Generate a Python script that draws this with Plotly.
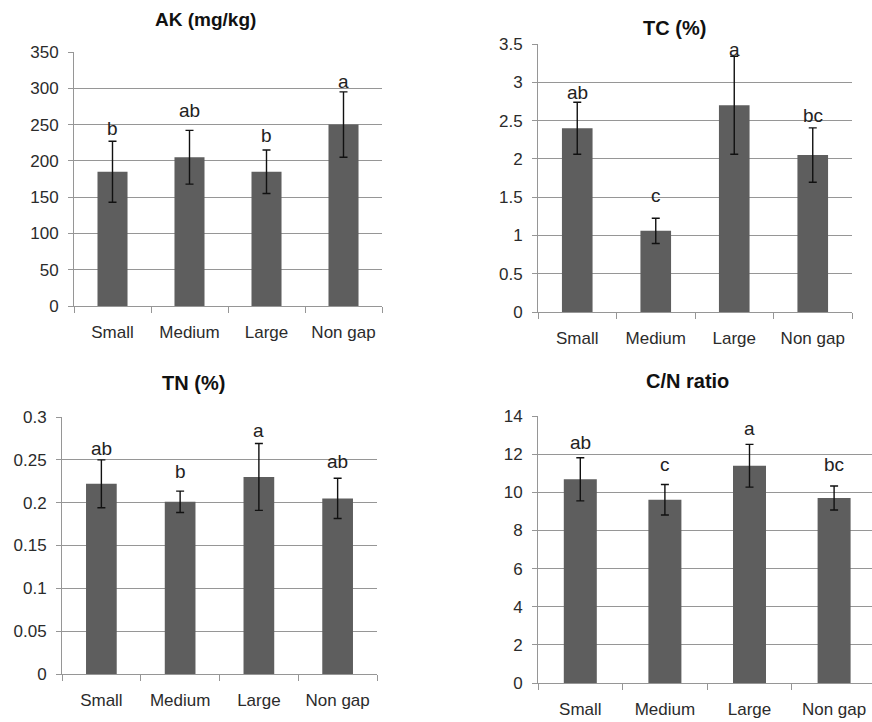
import plotly.graph_objects as go

W, H = 872, 722

categories = ["Small", "Medium", "Large", "Non gap"]

ak_values = [185, 205, 185, 250]
ak_errors = [42, 37, 30, 45]
ak_letters = ["b", "ab", "b", "a"]
ak_letter_y = [233, 258, 223, 298]

tc_values = [2.40, 1.06, 2.70, 2.05]
tc_errors = [0.34, 0.165, 0.64, 0.355]
tc_letters = ["ab", "c", "a", "bc"]
tc_letter_y = [2.76, 1.41, 3.32, 2.46]

tn_values = [0.222, 0.201, 0.230, 0.205]
tn_errors = [0.028, 0.0125, 0.039, 0.0235]
tn_letters = ["ab", "b", "a", "ab"]
tn_letter_y = [0.2533, 0.2267, 0.2743, 0.2384]

cn_values = [10.68, 9.61, 11.39, 9.70]
cn_errors = [1.13, 0.80, 1.12, 0.63]
cn_letters = ["ab", "c", "a", "bc"]
cn_letter_y = [12.16, 11.0, 12.88, 11.0]

ak_ticks = [0, 50, 100, 150, 200, 250, 300, 350]
tc_ticks = [0, 0.5, 1, 1.5, 2, 2.5, 3, 3.5]
tn_ticks = [0, 0.05, 0.1, 0.15, 0.2, 0.25, 0.3]
cn_ticks = [0, 2, 4, 6, 8, 10, 12, 14]

BAR = "#5e5e5e"
GRID = "#969696"
FONT = "Liberation Sans, Arial, sans-serif"

panels = [
    dict(v=ak_values, e=ak_errors, l=ak_letters, ly=ak_letter_y, ticks=ak_ticks, ymax=350,
         box=(74, 382, 52, 306), xr=3.5, title="<b>AK (mg/kg)</b>", tsize=19,
         tx=205, ty=20),
    dict(v=tc_values, e=tc_errors, l=tc_letters, ly=tc_letter_y, ticks=tc_ticks, ymax=3.5,
         box=(538, 852, 44, 312), xr=3.5, title="<b>TC (%)</b>", tsize=20, tx=674, ty=28),
    dict(v=tn_values, e=tn_errors, l=tn_letters, ly=tn_letter_y, ticks=tn_ticks, ymax=0.3,
         box=(62, 377, 417, 674), xr=3.5, title="<b>TN (%)</b>", tsize=20, tx=193, ty=383),
    dict(v=cn_values, e=cn_errors, l=cn_letters, ly=cn_letter_y, ticks=cn_ticks, ymax=14,
         box=(538, 872, 416, 683), xr=-0.5 + (872 - 538) / 84.6, title="<b>C/N ratio</b>",
         tsize=20, tx=687, ty=381),
]

fig = go.Figure()
annotations = []
layout = {}
for i, p in enumerate(panels, start=1):
    xa = "x" if i == 1 else f"x{i}"
    ya = "y" if i == 1 else f"y{i}"
    l, r, t, b = p["box"]
    fig.add_trace(go.Bar(
        x=categories, y=p["v"], xaxis=xa, yaxis=ya, width=0.39,
        marker=dict(color=BAR, line=dict(width=0)),
        error_y=dict(type="data", array=p["e"], visible=True, color="#111111",
                     thickness=1.4, width=4),
        showlegend=False, hoverinfo="skip",
    ))
    layout[f"xaxis{'' if i == 1 else i}"] = dict(
        domain=[l / W, min(r / W, 1.0)], anchor=ya, type="category",
        range=[-0.5, p["xr"]], showline=True, linecolor=GRID, linewidth=1,
        ticks="outside", tickson="boundaries", ticklen=6, tickcolor=GRID,
        showgrid=False, tickfont=dict(family=FONT, size=17, color="#2b2b2b"),
        ticklabelstandoff=11, automargin=False, fixedrange=True,
    )
    layout[f"yaxis{'' if i == 1 else i}"] = dict(
        domain=[1 - b / H, 1 - t / H], anchor=xa, range=[0, p["ymax"]],
        tickmode="array", tickvals=p["ticks"], ticktext=[f"{v:g}" for v in p["ticks"]],
        showline=True, linecolor=GRID, linewidth=1, ticks="outside", ticklen=5,
        tickcolor=GRID, showgrid=True, gridcolor=GRID, gridwidth=1, zeroline=False,
        tickfont=dict(family=FONT, size=17, color="#2b2b2b"), ticklabelstandoff=6,
        automargin=False, fixedrange=True,
    )
    for c, lab, yv in zip(categories, p["l"], p["ly"]):
        annotations.append(dict(
            x=c, y=yv, xref=xa, yref=ya, text=lab, showarrow=False,
            yanchor="bottom", yshift=-4, font=dict(family=FONT, size=19, color="#222222"),
        ))
    annotations.append(dict(
        x=p["tx"] / W, y=1 - p["ty"] / H, xref="paper", yref="paper", text=p["title"],
        showarrow=False, xanchor="center", yanchor="middle",
        font=dict(family=FONT, size=p["tsize"], color="#111111"),
    ))

fig.update_layout(
    width=W, height=H, margin=dict(l=0, r=0, t=0, b=0),
    paper_bgcolor="white", plot_bgcolor="white",
    annotations=annotations, bargap=0.6, **layout,
)
fig.write_html("out.html")
